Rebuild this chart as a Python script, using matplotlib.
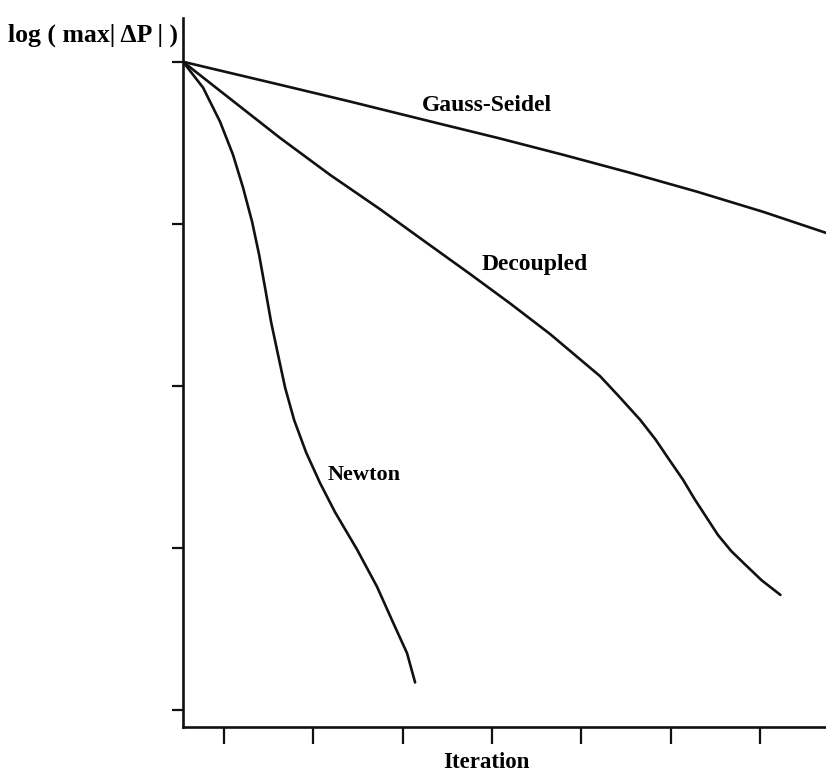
import matplotlib
matplotlib.use("Agg")
import matplotlib.pyplot as plt

# curves (x = iteration, y = log max|dP|)
gs_x = [0.54, 1.627, 2.377, 3.419, 4.057, 4.796, 5.546, 6.297, 7.036, 7.741]
gs_y = [0.0, -0.142, -0.241, -0.383, -0.469, -0.574, -0.685, -0.802, -0.926, -1.056]

dec_x = [0.54, 1.067, 1.627, 2.187, 2.747, 3.25, 3.755, 4.20, 4.65, 4.93,
         5.21, 5.43, 5.66, 5.83, 5.99, 6.14, 6.27, 6.40, 6.53, 6.68,
         6.83, 7.02, 7.23]
dec_y = [0.0, -0.228, -0.47, -0.698, -0.91, -1.11, -1.31, -1.49, -1.68, -1.81,
         -1.94, -2.07, -2.21, -2.33, -2.46, -2.58, -2.70, -2.81, -2.92, -3.02,
         -3.10, -3.20, -3.29]

new_x = [0.54, 0.765, 0.955, 1.10, 1.213, 1.314, 1.392, 1.459, 1.526, 1.605,
         1.683, 1.784, 1.918, 2.075, 2.243, 2.366, 2.489, 2.713, 2.892, 3.049,
         3.139]
new_y = [0.0, -0.16, -0.37, -0.574, -0.778, -0.988, -1.19, -1.395, -1.605, -1.81,
         -2.01, -2.21, -2.41, -2.60, -2.78, -2.895, -3.01, -3.24, -3.46, -3.65,
         -3.83]

x_ticks = [1, 2, 3, 4, 5, 6, 7]
y_ticks = [0, -1, -2, -3, -4]

serif = 'Liberation Serif'
ink = '#111111'

fig = plt.figure(figsize=(8.26, 7.72), dpi=100)
ax = fig.add_axes([183 / 826, 45 / 772, 643 / 826, 709 / 772])

for xs, ys in [(gs_x, gs_y), (dec_x, dec_y), (new_x, new_y)]:
    ax.plot(xs, ys, color=ink, lw=1.9, solid_joinstyle='round', solid_capstyle='round')

ax.set_xlim(0.54, 7.74)
ax.set_ylim(-4.105, 0.27)

ax.set_xticks(x_ticks)
ax.set_yticks(y_ticks)
ax.set_xticklabels([])
ax.set_yticklabels([])
ax.tick_params(axis='x', direction='out', length=12, width=1.6, color=ink)
ax.tick_params(axis='y', direction='out', length=8, width=1.6, color=ink)

for s in ['top', 'right']:
    ax.spines[s].set_visible(False)
for s in ['left', 'bottom']:
    ax.spines[s].set_linewidth(1.9)
    ax.spines[s].set_color(ink)

# curve labels
ax.text(3.21, -0.27, 'Gauss-Seidel', ha='left', va='center',
        family=serif, weight='bold', size=17)
ax.text(3.88, -1.25, 'Decoupled', ha='left', va='center',
        family=serif, weight='bold', size=17)
ax.text(2.16, -2.55, 'Newton', ha='left', va='center',
        family=serif, weight='bold', size=16)

fig.text(8 / 826, 1 - 35 / 772, 'log ( max| ΔP | )', ha='left', va='center',
         family=serif, weight='bold', size=18.5)
fig.text(486 / 826, 1 - 762 / 772, 'Iteration', ha='center', va='center',
         family=serif, weight='bold', size=16.5)

fig.savefig('out.png', dpi=100, facecolor='white')
